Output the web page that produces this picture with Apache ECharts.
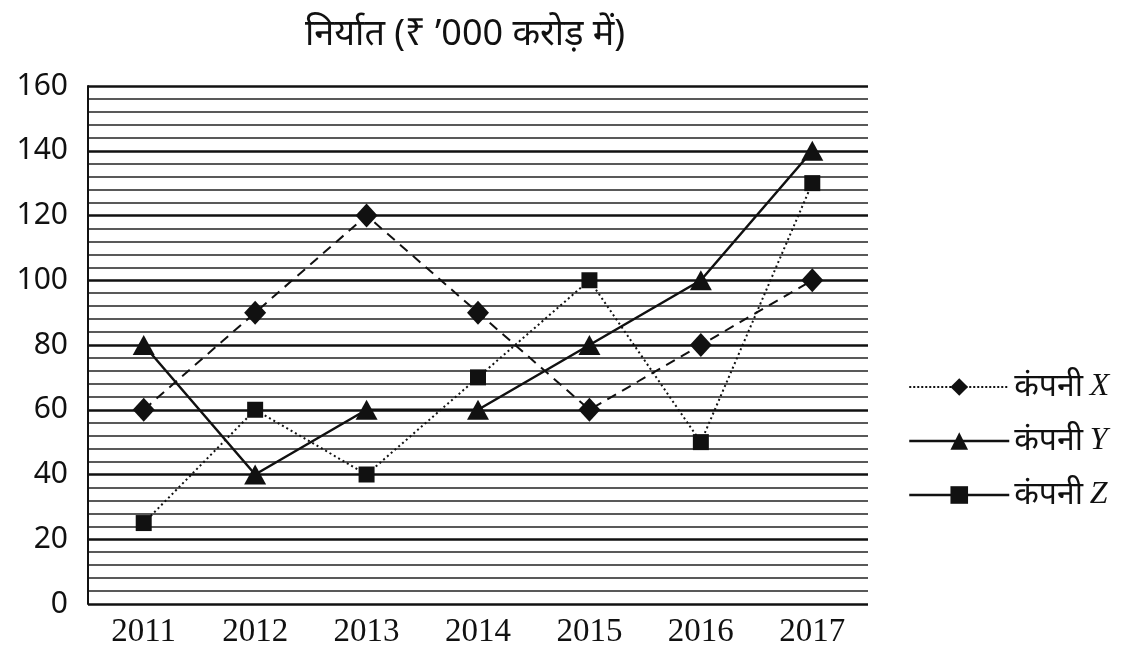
<!DOCTYPE html>
<html>
<head>
<meta charset="utf-8">
<style>
  html, body { margin: 0; padding: 0; background: #fff; }
  #chart { width: 1144px; height: 650px; }
</style>
<script src="https://cdn.jsdelivr.net/npm/echarts@6/dist/echarts.min.js"></script>
</head>
<body>
<div id="chart"></div>
<script>
// data
const years = ['2011', '2012', '2013', '2014', '2015', '2016', '2017'];
const companyX = [60, 90, 120, 90, 60, 80, 100];
const companyY = [80, 40, 60, 60, 80, 100, 140];
const companyZ = [25, 60, 40, 70, 100, 50, 130];
const seriesNames = ['कंपनी X', 'कंपनी Y', 'कंपनी Z'];

const myChart = echarts.init(document.getElementById('chart'));

myChart.setOption({
  backgroundColor: '#fff',
  animation: false,
  title: {
    text: 'निर्यात (₹ ’000 करोड़ में)',
    left: 460,
    top: 12,
    textAlign: 'center',
    textStyle: { fontFamily: 'Noto Sans, sans-serif', fontSize: 36, fontWeight: 'normal', color: '#111' }
  },
  grid: { left: 88, right: 276, top: 86, bottom: 46 },
  legend: {
    orient: 'vertical',
    left: 903,
    top: 366,
    itemWidth: 100,
    itemHeight: 22,
    itemGap: 22,
    data: [
      { name: seriesNames[0], lineStyle: { type: 'dotted', width: 2 } },
      { name: seriesNames[1], lineStyle: { type: 'solid', width: 2.5 } },
      { name: seriesNames[2], lineStyle: { type: 'solid', width: 2.5 } }
    ],
    formatter: function (name) {
      const parts = name.split(' ');
      return '{a|' + parts[0] + '}  {b|' + parts[1] + '}';
    },
    textStyle: {
      color: '#111',
      rich: {
        a: { fontFamily: 'Noto Sans, sans-serif', fontSize: 32, color: '#111' },
        b: { fontFamily: 'Liberation Serif, serif', fontStyle: 'italic', fontSize: 32, color: '#111' }
      }
    }
  },
  xAxis: {
    type: 'category',
    data: years,
    boundaryGap: true,
    axisLine: { show: false },
    axisTick: { show: false },
    axisLabel: { fontFamily: 'Liberation Serif, serif', fontSize: 33, color: '#111', margin: 12 }
  },
  yAxis: {
    type: 'value',
    min: 0,
    max: 160,
    interval: 20,
    axisLine: { show: true, lineStyle: { color: '#111', width: 2 } },
    axisTick: { show: false },
    axisLabel: { fontFamily: 'Noto Sans, sans-serif', fontSize: 30, color: '#111', margin: 20 },
    splitLine: { show: true, lineStyle: { color: '#111', width: 2.5 } },
    minorTick: { show: false, splitNumber: 5 },
    minorSplitLine: { show: true, lineStyle: { color: '#222', width: 1.6 } }
  },
  series: [
    {
      name: seriesNames[0],
      type: 'line',
      data: companyX,
      symbol: 'diamond',
      symbolSize: [22, 24],
      itemStyle: { color: '#111' },
      lineStyle: { color: '#111', type: [10, 7], width: 2 },
      z: 3
    },
    {
      name: seriesNames[1],
      type: 'line',
      data: companyY,
      symbol: 'triangle',
      symbolSize: [22, 20],
      itemStyle: { color: '#111' },
      lineStyle: { color: '#111', type: 'solid', width: 2.5 },
      z: 3
    },
    {
      name: seriesNames[2],
      type: 'line',
      data: companyZ,
      symbol: 'rect',
      symbolSize: 16,
      itemStyle: { color: '#111' },
      lineStyle: { color: '#111', type: [2, 3], width: 2 },
      z: 3
    }
  ]
});
</script>
</body>
</html>
